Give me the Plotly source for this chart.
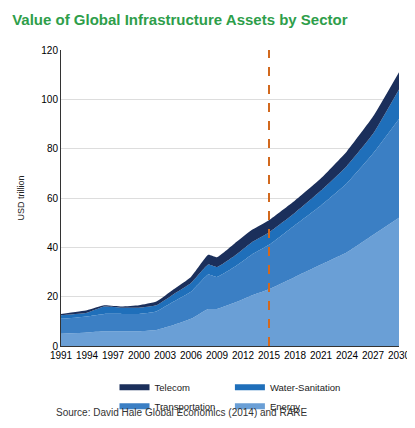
import plotly.graph_objects as go

years = [1991, 1994, 1996, 1998, 2000, 2002, 2004, 2006, 2008, 2009, 2011, 2013, 2015, 2018, 2021, 2024, 2027, 2030]
energy = [5, 5.5, 6, 6, 6, 6.5, 8.5, 11, 15, 15, 17.5, 20.5, 23, 28, 33, 38, 45, 52]
transportation = [6, 6.5, 7, 7, 7, 7.5, 9.5, 11, 14, 13, 14.5, 16.5, 18, 21, 24, 28, 33, 40]
water_sanitation = [1.5, 1.5, 3, 2.5, 2.5, 2.5, 3, 3.5, 4, 4, 4.5, 5, 5, 5, 6, 7, 8, 12]
telecom = [0.5, 1, 0.5, 0.5, 1, 1.5, 2, 2.5, 4, 4, 5, 5, 5, 5, 5, 6, 7, 7]
tick_years = list(range(1991, 2031, 3)) + [2030]

series = [
    ("Energy", energy, "#6a9fd6"),
    ("Transportation", transportation, "#3b7fc4"),
    ("Water-Sanitation", water_sanitation, "#1f6fba"),
    ("Telecom", telecom, "#1b2f5b"),
]

fig = go.Figure()
for name, vals, color in series:
    fig.add_scatter(x=years, y=vals, name=name, stackgroup="one", mode="none",
                    fillcolor=color, line=dict(shape="spline", smoothing=0.4))

fig.add_shape(type="line", x0=2015, x1=2015, y0=0, y1=120, xref="x", yref="y",
              line=dict(color="#d2691e", width=2, dash="dash"))

fig.update_layout(
    width=415, height=428, plot_bgcolor="white", paper_bgcolor="white",
    margin=dict(l=50, r=22, t=42, b=90),
    font=dict(family="Arial", size=10, color="#222"),
    title=dict(text="<b>Value of Global Infrastructure Assets by Sector</b>", x=0.01, y=0.985,
               font=dict(size=15, color="#2e9e4a")),
    legend=dict(orientation="h", x=0.5, xanchor="center", y=-0.09, traceorder="reversed",
                font=dict(size=9.5), entrywidth=0, itemwidth=30, tracegroupgap=0),
    xaxis=dict(range=[1991, 2030], tickvals=tick_years, showgrid=False,
               showline=True, linecolor="#333", tickfont=dict(size=10, color="#000")),
    yaxis=dict(range=[0, 120], dtick=20, showgrid=True, gridcolor="#ddd",
               showline=True, linecolor="#333", tickfont=dict(size=10, color="#000"),
               title=dict(text="USD trillion", font=dict(size=9))),
)
fig.add_annotation(text="Source: David Hale Global Economics (2014) and RARE", xref="paper", yref="paper",
                   x=-0.02, y=-0.25, showarrow=False, xanchor="left", font=dict(size=10, color="#333"))
fig.write_html("out.html")
